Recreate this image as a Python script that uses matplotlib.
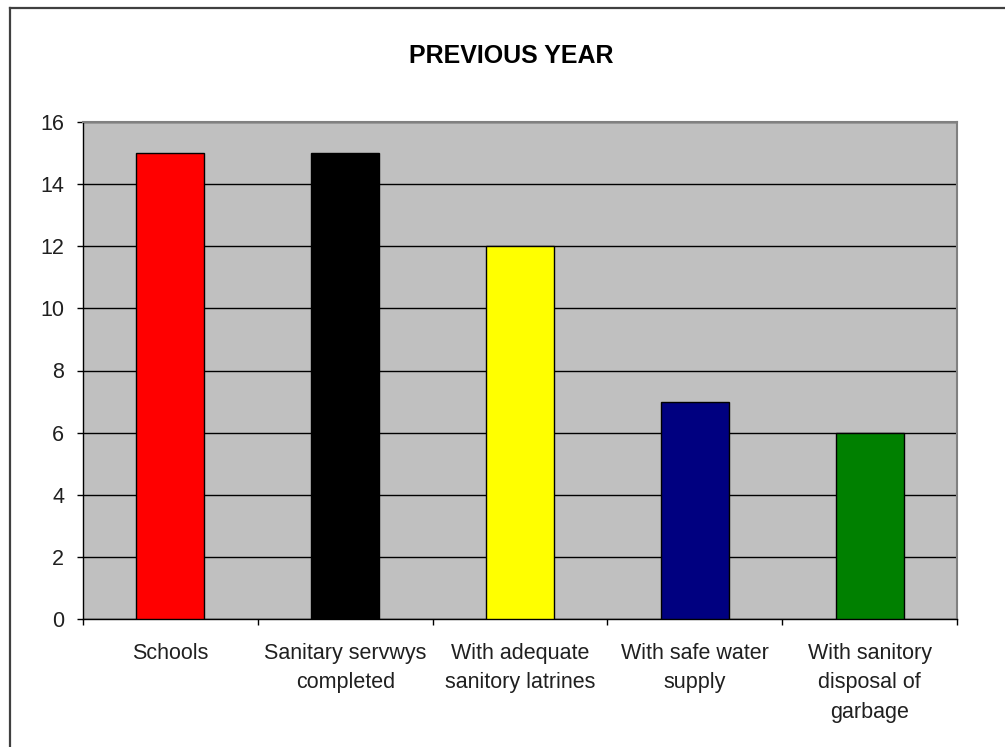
import matplotlib
matplotlib.use("Agg")
import matplotlib.pyplot as plt
from matplotlib.lines import Line2D
import numpy as np

# data
categories = [
    "Schools",
    "Sanitary servwys\ncompleted",
    "With adequate\nsanitory latrines",
    "With safe water\nsupply",
    "With sanitory\ndisposal of\ngarbage",
]
values = [15, 15, 12, 7, 6]
bar_colors = ["#FF0000", "#000000", "#FFFF00", "#000080", "#008000"]
y_ticks = [0, 2, 4, 6, 8, 10, 12, 14, 16]

plt.rcParams["font.family"] = ["Liberation Sans", "DejaVu Sans"]

W, H = 1005, 747
fig = plt.figure(figsize=(W / 100, H / 100), dpi=100)
ax = fig.add_axes([83 / W, 1 - 619 / H, (957 - 83) / W, (619 - 122) / H])

x = np.arange(len(categories))
ax.bar(x, values, width=0.39, color=bar_colors, edgecolor="black", linewidth=1, zorder=3)

ax.set_facecolor("#C0C0C0")
ax.set_xlim(-0.5, len(categories) - 0.5)
ax.set_ylim(0, 16)
ax.set_yticks(y_ticks)
ax.set_yticklabels([str(v) for v in y_ticks], fontsize=15.5, color="#202020")
ax.yaxis.grid(True, color="black", linewidth=1)
ax.set_axisbelow(True)

# category boundaries get tick marks, labels sit in between
ax.set_xticks(np.arange(len(categories) + 1) - 0.5)
ax.set_xticklabels([])
ax.set_xticks(x, minor=True)
ax.set_xticklabels(categories, minor=True, fontsize=15.5, linespacing=1.55, color="#202020")
ax.tick_params(axis="x", which="minor", length=0, pad=17)
ax.tick_params(axis="x", which="major", length=4.5, width=1, direction="out")
ax.tick_params(axis="y", length=4.5, width=1, pad=9, direction="out")

for side in ["left", "bottom"]:
    ax.spines[side].set_color("black")
    ax.spines[side].set_linewidth(1)
for side in ["top", "right"]:
    ax.spines[side].set_color("#808080")
    ax.spines[side].set_linewidth(1.5)

fig.text(511 / W, 1 - 56 / H, "PREVIOUS YEAR", ha="center", va="center",
         fontsize=18, fontweight="bold")

# chart frame (only top and left edges visible)
fig.add_artist(Line2D([9.5 / W, 9.5 / W], [0, 1 - 7.5 / H], transform=fig.transFigure,
                      color="#404040", linewidth=1.6))
fig.add_artist(Line2D([9.5 / W, 1], [1 - 7.5 / H, 1 - 7.5 / H], transform=fig.transFigure,
                      color="#404040", linewidth=1.6))

fig.savefig("out.png", dpi=100)
